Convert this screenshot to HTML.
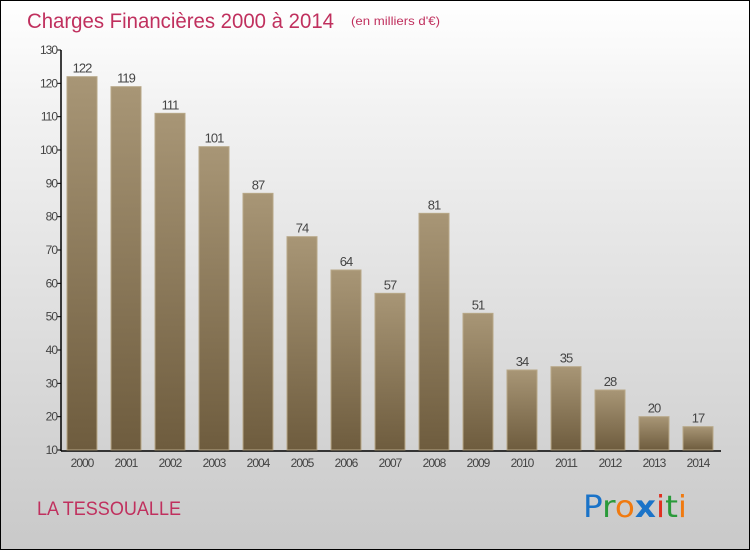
<!DOCTYPE html>
<html><head><meta charset="utf-8"><style>
body{margin:0;}
#wrap{position:relative;width:748px;height:548px;border:1px solid #000;background:linear-gradient(#ffffff,#f2f2f2 20%,#c9c9c9);font-family:"Liberation Sans",sans-serif;overflow:hidden}
</style></head><body>
<div id="wrap">
<svg id="c" width="748" height="548">
<defs><linearGradient id="g" x1="0" y1="0" x2="0" y2="1"><stop offset="0" stop-color="#a89676"/><stop offset="1" stop-color="#6e5c3e"/></linearGradient></defs>
<text x="26" y="27" font-size="21" fill="#c0305e" textLength="307" lengthAdjust="spacingAndGlyphs">Charges Financières 2000 à 2014</text>
<text x="350" y="24" font-size="12" fill="#c0305e" textLength="89" lengthAdjust="spacingAndGlyphs">(en milliers d'€)</text>
<text x="36" y="514" font-size="19" fill="#c0305e" textLength="144" lengthAdjust="spacingAndGlyphs">LA TESSOUALLE</text>
<text x="582" y="516" font-size="30" font-family="DejaVu Sans,sans-serif" textLength="104" lengthAdjust="spacingAndGlyphs"><tspan fill="#1a73c8">P</tspan><tspan fill="#2a9a3a">r</tspan><tspan fill="#f07a10">o</tspan><tspan fill="#1a73c8" font-weight="bold">x</tspan><tspan fill="#e03020">i</tspan><tspan fill="#2a9a3a">t</tspan><tspan fill="#f07a10">i</tspan></text>
<g id="plot"></g>
</svg>
</div>
<script>
const years=["2000","2001","2002","2003","2004","2005","2006","2007","2008","2009","2010","2011","2012","2013","2014"];
const values=[122,119,111,101,87,74,64,57,81,51,34,35,28,20,17];
const yTicks=[10,20,30,40,50,60,70,80,90,100,110,120,130];
const ns="http://www.w3.org/2000/svg";
const g=document.getElementById('plot');
const y=v=>449-(v-10)*400/120;
const x=i=>81+i*44;
function mk(t,a){const e=document.createElementNS(ns,t);for(const k in a)e.setAttribute(k,a[k]);g.appendChild(e);return e;}
let ax=mk('line',{x1:60,y1:49,x2:60,y2:450,stroke:'#000','stroke-width':1.5});


let bx=mk('line',{x1:60,y1:450,x2:720,y2:450,stroke:'#000','stroke-width':1.5});


yTicks.forEach(t=>{
 let l=mk('line',{x1:56,x2:60,y1:y(t),y2:y(t),stroke:'#000'});
 
 
 let tx=mk('text',{x:56,y:y(t)+4,'font-size':12,fill:'#444','text-anchor':'end','letter-spacing':'-1'});
 tx.textContent=t;
 
 
});
years.forEach((yr,i)=>{
 let r=mk('rect',{x:x(i)-15,y:y(values[i]),width:30,height:449-y(values[i]),fill:'url(#g)',stroke:'#b8a888','stroke-width':1});
 
 
 let v=mk('text',{x:x(i),y:y(values[i])-4,'font-size':13,fill:'#444','text-anchor':'middle','letter-spacing':'-1'});
 v.textContent=values[i];
 
 
 let xl=mk('text',{x:x(i),y:466,'font-size':12,fill:'#444','text-anchor':'middle','letter-spacing':'-1'});
 xl.textContent=yr;
 
 
});
</script>
</body></html>
